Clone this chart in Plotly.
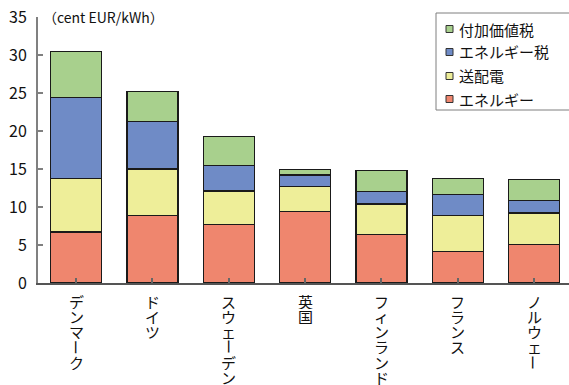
import plotly.graph_objects as go

# Household electricity price breakdown by country (cent EUR/kWh)
countries = ["デンマーク", "ドイツ", "スウェーデン", "英国", "フィンランド", "フランス", "ノルウェー"]
energy = [6.7, 8.9, 7.7, 9.4, 6.4, 4.1, 5.1]
network = [7.1, 6.1, 4.4, 3.3, 4.0, 4.75, 4.1]
energy_tax = [10.6, 6.2, 3.35, 1.5, 1.6, 2.8, 1.7]
vat = [6.1, 4.0, 3.85, 0.7, 2.8, 2.05, 2.7]

series_names = ["エネルギー", "送配電", "エネルギー税", "付加価値税"]
series_values = [energy, network, energy_tax, vat]
series_colors = ["#EF866E", "#EEEE99", "#6F8BC6", "#A8D08D"]

y_ticks = [0, 5, 10, 15, 20, 25, 30, 35]
unit_label = "（cent EUR/kWh）"

FONT = "Noto Sans CJK JP, Noto Sans, sans-serif"
W, H = 569, 385
ML, MR, MT, MB = 38, 0, 17, 102
PW, PH = W - ML - MR, H - MT - MB


def px_x(px):
    """pixel column -> paper x"""
    return (px - ML) / PW


def px_y(py):
    """pixel row -> paper y"""
    return (H - MB - py) / PH


fig = go.Figure()
x_idx = list(range(len(countries)))

for name, vals, col in zip(series_names, series_values, series_colors):
    fig.add_trace(go.Bar(
        x=x_idx, y=vals, name=name,
        marker=dict(color=col, line=dict(color="#1a1a1a", width=1.2)),
        showlegend=False,
    ))

# vertical (top-to-bottom) category labels, one character per line
char_step = 15.3
annotations = []
for i, label in enumerate(countries):
    for j, ch in enumerate(label):
        annotations.append(dict(
            x=i, y=0, xref="x", yref="paper",
            text=ch, showarrow=False, height=15,
            xanchor="center", yanchor="middle",
            yshift=-(18 + j * char_step),
            textangle=90 if ch == "ー" else 0,
            font=dict(family=FONT, size=15, color="#111111"),
        ))

annotations.append(dict(
    x=0, y=35, xref="paper", yref="y", xanchor="left", yanchor="middle",
    xshift=3, text=unit_label, showarrow=False,
    font=dict(family=FONT, size=14, color="#111111"),
))

# legend box drawn with shapes: top entry is the top stack segment
shapes = [dict(
    type="rect", xref="paper", yref="paper",
    x0=px_x(436), x1=px_x(575), y0=px_y(110), y1=px_y(13),
    line=dict(color="#7f7f7f", width=1), fillcolor="white", layer="above",
)]
legend_rows = [29, 52, 76, 99]
for row_y, name, col in zip(legend_rows, series_names[::-1], series_colors[::-1]):
    shapes.append(dict(
        type="rect", xref="paper", yref="paper",
        x0=px_x(446), x1=px_x(453), y0=px_y(row_y + 3.5), y1=px_y(row_y - 3.5),
        line=dict(color="#333333", width=1), fillcolor=col, layer="above",
    ))
    annotations.append(dict(
        x=px_x(457), y=px_y(row_y), xref="paper", yref="paper",
        xanchor="left", yanchor="middle", text=name, showarrow=False,
        font=dict(family=FONT, size=15, color="#111111"),
    ))

fig.update_layout(
    width=W, height=H,
    margin=dict(l=ML, r=MR, t=MT, b=MB, pad=0),
    barmode="stack", bargap=0.333,
    paper_bgcolor="white", plot_bgcolor="white",
    font=dict(family=FONT, size=15, color="#111111"),
    annotations=annotations, shapes=shapes, showlegend=False,
    xaxis=dict(
        range=[-0.5, 6.457], showticklabels=False,
        tickmode="array", tickvals=x_idx,
        tickson="boundaries", ticks="inside", ticklen=5,
        tickcolor="#666666", tickwidth=1.5,
        showline=True, linecolor="#555555", linewidth=2,
        showgrid=False, zeroline=False, fixedrange=True,
    ),
    yaxis=dict(
        range=[0, 35], tickvals=y_ticks,
        ticks="inside", ticklen=5, tickcolor="#808080", tickwidth=1.5,
        showline=True, linecolor="#808080", linewidth=2,
        showgrid=False, zeroline=False,
        ticklabelstandoff=6,
        tickfont=dict(family=FONT, size=16, color="#111111"),
    ),
)

fig.write_html("out.html")
